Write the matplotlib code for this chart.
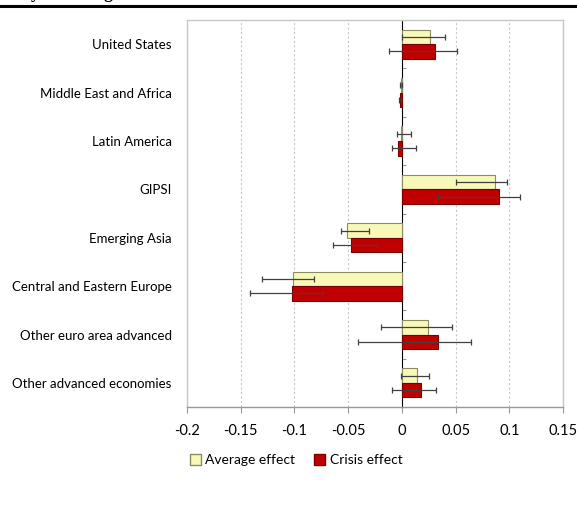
import numpy as np
import matplotlib.pyplot as plt
from matplotlib.lines import Line2D
from matplotlib.patches import Patch

plt.rcParams['font.family'] = ['Lato', 'DejaVu Sans']

regions = ['United States', 'Middle East and Africa', 'Latin America', 'GIPSI',
           'Emerging Asia', 'Central and Eastern Europe', 'Other euro area advanced',
           'Other advanced economies']

avg_effect = [0.026, -0.001, -0.0005, 0.0865, -0.0515, -0.1015, 0.024, 0.014]
avg_low = [0.000, -0.002, -0.005, 0.050, -0.057, -0.130, -0.019, -0.001]
avg_high = [0.040, 0.000, 0.008, 0.098, -0.031, -0.082, 0.0465, 0.025]

crisis_effect = [0.031, -0.0015, -0.004, 0.090, -0.047, -0.1025, 0.0335, 0.0175]
crisis_low = [-0.012, -0.0025, -0.009, 0.034, -0.0645, -0.141, -0.041, -0.009]
crisis_high = [0.051, -0.0005, 0.013, 0.110, -0.0235, -0.0735, 0.064, 0.032]

xticks = [-0.2, -0.15, -0.1, -0.05, 0, 0.05, 0.1, 0.15]
xtick_labels = ['-0.2', '-0.15', '-0.1', '-0.05', '0', '0.05', '0.1', '0.15']

avg_color = '#F8F8B8'
avg_edge = '#8C8C60'
crisis_color = '#C00000'
crisis_edge = '#7A0000'
err_color = '#404040'

fig = plt.figure(figsize=(5.77, 5.14), dpi=100)
ax = fig.add_axes([0.324, 0.208, 0.652, 0.753])

y = np.arange(len(regions))
h = 0.3

avg = np.array(avg_effect)
cri = np.array(crisis_effect)
avg_err = [avg - np.array(avg_low), np.array(avg_high) - avg]
cri_err = [cri - np.array(crisis_low), np.array(crisis_high) - cri]

ax.barh(y - h / 2, avg, height=h, color=avg_color, edgecolor=avg_edge, linewidth=0.8, zorder=2)
ax.barh(y + h / 2, cri, height=h, color=crisis_color, edgecolor=crisis_edge, linewidth=0.8, zorder=2)
ax.errorbar(avg, y - h / 2, xerr=avg_err, fmt='none', ecolor=err_color,
            elinewidth=0.9, capsize=2, capthick=0.9, zorder=3)
ax.errorbar(cri, y + h / 2, xerr=cri_err, fmt='none', ecolor=err_color,
            elinewidth=0.9, capsize=2, capthick=0.9, zorder=3)

ax.set_xlim(-0.2, 0.15)
ax.set_ylim(len(regions) - 0.5, -0.5)
ax.set_xticks(xticks)
ax.set_xticklabels(xtick_labels, fontsize=10.5)
ax.set_yticks(y)
ax.set_yticklabels(regions, fontsize=9.5)
ax.tick_params(axis='y', length=0, pad=11)
ax.tick_params(axis='x', length=4, color='#999999', direction='out', pad=8)

for xv in xticks:
    if xv != 0:
        ax.axvline(xv, color='#C8C8C8', linestyle=(0, (2, 2)), linewidth=0.8, zorder=0)

for side in ['top', 'right', 'left', 'bottom']:
    ax.spines[side].set_color('#C8C8C8')
    ax.spines[side].set_linewidth(1.0)
ax.spines['bottom'].set_color('#999999')

# category axis at x = 0
zero_ax = ax.secondary_yaxis(0.2 / 0.35)
zero_ax.set_yticks(np.arange(len(regions) + 1) - 0.5)
zero_ax.set_yticklabels([])
zero_ax.tick_params(length=3, color='#999999', direction='out')
zero_ax.spines['left'].set_color('#999999')
zero_ax.spines['left'].set_linewidth(1.0)

handles = [Patch(facecolor=avg_color, edgecolor=avg_edge, label='Average effect'),
           Patch(facecolor=crisis_color, edgecolor=crisis_edge, label='Crisis effect')]
fig.legend(handles=handles, loc='center', bbox_to_anchor=(0.513, 0.105), ncol=2,
           frameon=False, fontsize=10, handlelength=0.8, handleheight=0.8,
           handletextpad=0.3, columnspacing=1.4)

# heading above the chart, cut off by the top edge as in the source
fig.text(-0.01, 1.012, 'Analysis of Regional Results', family='Liberation Serif',
         fontweight='bold', fontsize=13, ha='left', va='center')
fig.add_artist(Line2D([0, 1], [0.989, 0.989], transform=fig.transFigure,
                      color='black', linewidth=2.2))

fig.savefig('out.png', dpi=100)
